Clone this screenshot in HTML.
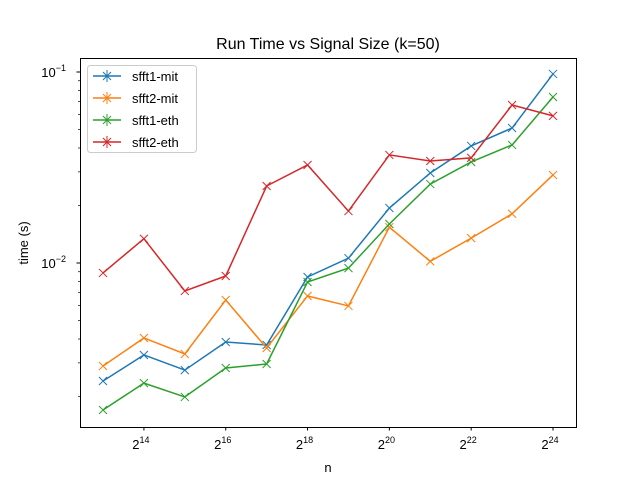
<!DOCTYPE html>
<html><head><meta charset="utf-8"><style>
body{margin:0;background:#fff}
svg text{font-family:"Liberation Sans","DejaVu Sans",sans-serif;fill:#000}
</style></head><body>
<svg id="chart" width="640" height="480" xmlns="http://www.w3.org/2000/svg">
<rect width="640" height="480" fill="#fff"/>
<text x="328" y="49" font-size="16" text-anchor="middle">Run Time vs Signal Size (k=50)</text>
<g id="ticks"></g>
<g id="series"></g>
<rect x="80.5" y="58.5" width="496" height="369" fill="none" stroke="#000" stroke-width="1"/>
<text x="328" y="472" font-size="13" text-anchor="middle">n</text>
<text x="0" y="0" font-size="13" text-anchor="middle" transform="translate(28,243) rotate(-90)">time (s)</text>
<g id="legend"></g>
</svg>
<script>
const exponents = [13,14,15,16,17,18,19,20,21,22,23,24];
const seriesNames = ["sfft1-mit","sfft2-mit","sfft1-eth","sfft2-eth"];
const sfft1Mit = [0.00241,0.0033,0.00275,0.00386,0.00372,0.00845,0.0106,0.0194,0.0296,0.041,0.0509,0.0977];
const sfft2Mit = [0.00289,0.00405,0.00334,0.0064,0.00359,0.00672,0.00596,0.0154,0.0102,0.0135,0.0181,0.0289];
const sfft1Eth = [0.0017,0.00235,0.00199,0.00282,0.00296,0.00795,0.0094,0.016,0.0259,0.0338,0.0415,0.074];
const sfft2Eth = [0.00887,0.0134,0.00714,0.00855,0.0253,0.0326,0.0187,0.0368,0.0342,0.0355,0.0672,0.0589];
const xTickExps = [14,16,18,20,22,24];
const yMajor = [-2,-1];
const colors = ["#1f77b4","#ff7f0e","#2ca02c","#d62728"];
const NS="http://www.w3.org/2000/svg";
function xs(e){return 103+(e-13)*(450/11);}
function ys(v){return 263-191*(Math.log10(v)+2);}
function mk(tag,attrs,parent){const el=document.createElementNS(NS,tag);for(const k in attrs)el.setAttribute(k,attrs[k]);parent.appendChild(el);return el;}
const ticks=document.getElementById('ticks');
xTickExps.forEach(e=>{
  const x=xs(e);
  const l=mk('line',{x1:x,x2:x,y1:427,y2:430.5,stroke:'#000'},ticks);
  
  
  const t=mk('text',{x:x-3,y:449,'font-size':13,'text-anchor':'middle'},ticks);
  
  
  t.textContent='2';
  const s=mk('tspan',{dy:-6,'font-size':9},t);s.textContent=String(e);
});
yMajor.forEach(p=>{
  const y=ys(Math.pow(10,p));
  const l=mk('line',{x1:76.5,x2:80,y1:y,y2:y,stroke:'#000'},ticks);
  
  
  const t=mk('text',{x:66,y:y+5,'font-size':13,'text-anchor':'end'},ticks);
  
  
  t.textContent='10';
  const s=mk('tspan',{dy:-6,'font-size':9},t);s.textContent=String(p).replace('-','\u2212');
});
[-3,-2].forEach(p=>{for(let m=2;m<=9;m++){const v=m*Math.pow(10,p);const y=ys(v);if(y<58||y>427)continue;
  const l=mk('line',{x1:78,x2:80,y1:y,y2:y,stroke:'#000','stroke-width':0.7},ticks);
  
  }});
const sg=document.getElementById('series');
[sfft1Mit,sfft2Mit,sfft1Eth,sfft2Eth].forEach((d,i)=>{
  const g=mk('g',{},sg);
  
  
  const pts=d.map((v,j)=>xs(exponents[j])+','+ys(v)).join(' ');
  mk('polyline',{points:pts,fill:'none',stroke:colors[i],'stroke-width':1.5},g);
  d.forEach((v,j)=>{const x=xs(exponents[j]),y=ys(v);
    const p=mk('path',{d:`M${x-4},${y-4}L${x+4},${y+4}M${x-4},${y+4}L${x+4},${y-4}`,stroke:colors[i],'stroke-width':1},g);
    
    });
});
const lg=document.getElementById('legend');
mk('rect',{x:87.5,y:65.5,width:109,height:87,rx:3,fill:'#fff','fill-opacity':0.8,stroke:'#ccc'},lg);
seriesNames.forEach((n,i)=>{
  const y=76+i*22;
  const e=mk('g',{},lg);
  
  
  mk('line',{x1:93,x2:121,y1:y,y2:y,stroke:colors[i],'stroke-width':1.5},e);
  mk('path',{d:`M103,${y-4}L111,${y+4}M103,${y+4}L111,${y-4}M107,${y-6}L107,${y+6}`,stroke:colors[i],'stroke-width':1},e);
  const t=mk('text',{x:132,y:y+5,'font-size':13},e);t.textContent=n;
});
</script>
</body></html>
